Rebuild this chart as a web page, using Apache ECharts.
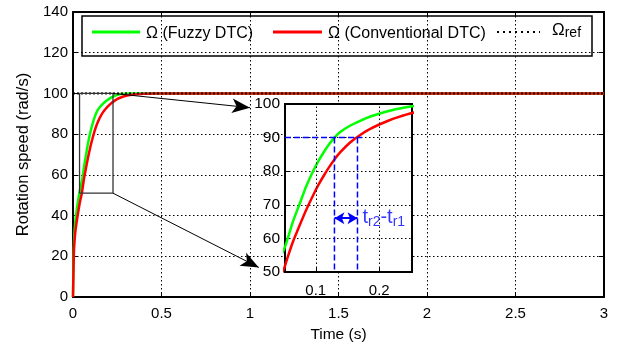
<!DOCTYPE html>
<html><head><meta charset="utf-8">
<script src="https://cdn.jsdelivr.net/npm/echarts@6/dist/echarts.min.js"></script>
<style>html,body{margin:0;padding:0;background:#fff}#c{width:622px;height:348px}</style>
</head><body><div id="c"></div>
<script>
// ---- data ----
const time       = [0, 0.003, 0.006, 0.012, 0.02, 0.03, 0.04, 0.05, 0.055, 0.064, 0.074, 0.085, 0.097, 0.105, 0.113, 0.121, 0.1294, 0.138, 0.1545, 0.17, 0.185, 0.2, 0.215, 0.23, 0.2516, 0.27, 0.29, 0.32, 0.36, 0.4, 0.45, 0.5, 1, 1.5, 2, 2.5, 3];
const speedFuzzy = [0, 19, 28, 36, 42, 48, 53, 56.8, 59.5, 65, 70, 75.5, 80.5, 83.3, 85.8, 88, 90, 91.6, 93.6, 95, 96.2, 97.1, 97.9, 98.6, 99.3, 99.7, 99.9, 100, 100, 100, 100, 100, 100, 100, 100, 100, 100];
const speedConv  = [0, 14, 24, 31, 36.5, 42, 47, 51, 54, 59, 63.6, 68.5, 73.3, 76.2, 78.8, 81.2, 83.5, 85.5, 88.6, 90.8, 92.5, 93.9, 95.1, 96.1, 97.3, 98, 98.6, 99.2, 99.6, 99.8, 100, 100, 100, 100, 100, 100, 100];
const refTime    = [0, 3];
const refSpeed   = [100, 100];
const riseLevel  = 90;                 // 90 % of reference
const riseTimes  = [0.1294, 0.1657];   // t_r1 (fuzzy), t_r2 (conventional)
const riseArrowY = 66;
const zoomBoxT   = [0.037, 0.226];
const zoomBoxY   = [51, 100];
const insetT     = [0.0515, 0.2516];
const insetY     = [50, 100];
const insetTicksT = [0.1, 0.2];

const FF = "'Liberation Sans', Arial, sans-serif";
const pairs = (xs, ys) => xs.map((x, i) => [x, ys[i]]);
const gridDot = {color: '#000', type: [1.5, 2.5], width: 1};
const axisBlack = {lineStyle: {color: '#000', width: 2}, onZero: false};
const lbl = (o) => Object.assign({color: '#000', fontSize: 15, fontFamily: FF}, o);
const curve = {showSymbol: false, smooth: 0.2};

const chart = echarts.init(document.getElementById('c'));
const option = {
  animation: false,
  backgroundColor: '#fff',
  grid: [
    {left: 73, right: 18, top: 12, bottom: 50, show: false},
    {left: 285, top: 104, width: 127, height: 168, show: true, backgroundColor: '#fff', borderColor: '#000', borderWidth: 2, z: 1}
  ],
  xAxis: [
    {gridIndex: 0, type: 'value', min: 0, max: 3, interval: 0.5, axisLine: axisBlack,
     axisTick: {inside: true, length: 5, lineStyle: {color: '#000'}},
     axisLabel: lbl({margin: 9}), splitLine: {show: true, lineStyle: gridDot},
     name: 'Time (s)', nameLocation: 'middle', nameGap: 30, nameTextStyle: lbl({fontSize: 15.5})},
    {gridIndex: 0, type: 'value', position: 'top', min: 0, max: 3, interval: 0.5, axisLine: axisBlack,
     axisTick: {inside: true, length: 5, lineStyle: {color: '#000'}}, axisLabel: {show: false}, splitLine: {show: false}},
    {gridIndex: 1, type: 'value', min: insetT[0], max: insetT[1], axisLine: axisBlack, z: 2,
     axisTick: {inside: true, length: 4, customValues: insetTicksT, lineStyle: {color: '#000'}},
     axisLabel: lbl({margin: 11, customValues: insetTicksT}),
     splitLine: {show: false}}
  ],
  yAxis: [
    {gridIndex: 0, type: 'value', min: 0, max: 140, interval: 20, axisLine: axisBlack,
     axisTick: {inside: true, length: 5, lineStyle: {color: '#000'}},
     axisLabel: lbl({margin: 5}), splitLine: {show: true, lineStyle: gridDot},
     name: 'Rotation speed (rad/s)', nameLocation: 'middle', nameGap: 32, nameRotate: 90,
     nameTextStyle: lbl({fontSize: 16.5})},
    {gridIndex: 0, type: 'value', position: 'right', min: 0, max: 140, interval: 20, axisLine: axisBlack,
     axisTick: {inside: true, length: 5, lineStyle: {color: '#000'}}, axisLabel: {show: false}, splitLine: {show: false}},
    {gridIndex: 1, type: 'value', min: insetY[0], max: insetY[1], interval: 10, axisLine: axisBlack, z: 2,
     axisTick: {inside: true, length: 4, lineStyle: {color: '#000'}},
     axisLabel: lbl({margin: 5, fontSize: 15.5}), splitLine: {show: true, lineStyle: gridDot}}
  ],
  series: [
    // main plot
    Object.assign({type: 'line', xAxisIndex: 0, yAxisIndex: 0, data: pairs(time, speedFuzzy),
     lineStyle: {color: '#00ff00', width: 2.5}}, curve),
    Object.assign({type: 'line', xAxisIndex: 0, yAxisIndex: 0, data: pairs(time, speedConv),
     lineStyle: {color: '#ff0000', width: 2.5}}, curve),
    {type: 'line', xAxisIndex: 0, yAxisIndex: 0, data: pairs(refTime, refSpeed), showSymbol: false,
     lineStyle: {color: '#000', width: 2, type: [2, 2]}},
    // zoom box + arrows
    {type: 'line', xAxisIndex: 0, yAxisIndex: 0, showSymbol: false, silent: true,
     data: [[zoomBoxT[0], zoomBoxY[0]], [zoomBoxT[1], zoomBoxY[0]], [zoomBoxT[1], zoomBoxY[1]], [zoomBoxT[0], zoomBoxY[1]], [zoomBoxT[0], zoomBoxY[0]]],
     lineStyle: {color: '#333', width: 1.3},
     markLine: {silent: true, symbol: ['none', 'arrow'], symbolSize: [11, 18], label: {show: false},
       lineStyle: {color: '#000', width: 1, type: 'solid'},
       data: [[{coord: [zoomBoxT[1], zoomBoxY[1]]}, {coord: [1.0, 93.0]}],
              [{coord: [zoomBoxT[1], zoomBoxY[0]]}, {coord: [1.05, 14.5]}]]}},
    // inset
    Object.assign({type: 'line', xAxisIndex: 2, yAxisIndex: 2, data: pairs(time, speedFuzzy), z: 3,
     lineStyle: {color: '#00ff00', width: 2.5}}, curve),
    Object.assign({type: 'line', xAxisIndex: 2, yAxisIndex: 2, data: pairs(time, speedConv), z: 3,
     lineStyle: {color: '#ff0000', width: 2.5}}, curve),
    // inset vertical grid lines
    {type: 'line', xAxisIndex: 2, yAxisIndex: 2, data: [], z: 2, silent: true,
     markLine: {silent: true, symbol: ['none', 'none'], label: {show: false}, lineStyle: gridDot,
       data: insetTicksT.map(t => ({xAxis: t}))}},
    // blue rise-time annotations
    {type: 'line', xAxisIndex: 2, yAxisIndex: 2, showSymbol: false, z: 4, silent: true,
     data: [[insetT[0], riseLevel], [0.173, riseLevel]], lineStyle: {color: '#0000ff', width: 1.5, type: [6, 3]}},
    {type: 'line', xAxisIndex: 2, yAxisIndex: 2, showSymbol: false, z: 4, silent: true,
     data: [[riseTimes[0], riseLevel], [riseTimes[0], insetY[0]]], lineStyle: {color: '#0000ff', width: 1.5, type: [6, 3]}},
    {type: 'line', xAxisIndex: 2, yAxisIndex: 2, showSymbol: false, z: 4, silent: true,
     data: [[riseTimes[1], riseLevel], [riseTimes[1], insetY[0]]], lineStyle: {color: '#0000ff', width: 1.5, type: [6, 3]},
     markLine: {silent: true, symbol: ['arrow', 'arrow'], symbolSize: [9, 10], label: {show: false},
       lineStyle: {color: '#0000ff', width: 2, type: 'solid'},
       data: [[{coord: [riseTimes[0], riseArrowY]}, {coord: [riseTimes[1], riseArrowY]}]]}},
    {type: 'scatter', xAxisIndex: 2, yAxisIndex: 2, z: 5, silent: true, symbolSize: 0,
     data: [[0.1735, riseArrowY]],
     label: {show: true, position: 'right', distance: 0,
       formatter: '{t|t}{s|r2}{t|-t}{s|r1}',
       rich: {t: {fontSize: 20, fontFamily: FF, color: '#0000ff', lineHeight: 21, verticalAlign: 'top'},
              s: {fontSize: 14, fontFamily: FF, color: '#0000ff', lineHeight: 14, verticalAlign: 'bottom', padding: [13, 0, 0, 0]}}}}
  ],
  graphic: [
    {type: 'group', z: 100, children: [
      {type: 'rect', shape: {x: 82, y: 16, width: 510, height: 40}, style: {fill: '#fff', stroke: '#000', lineWidth: 1.5}},
      {type: 'line', shape: {x1: 92, y1: 32, x2: 140, y2: 32}, style: {stroke: '#00ff00', lineWidth: 3}},
      {type: 'text', x: 146, y: 34, style: {text: 'Ω (Fuzzy DTC)', font: '16px ' + FF, fill: '#000', verticalAlign: 'middle'}},
      {type: 'line', shape: {x1: 273, y1: 32, x2: 322, y2: 32}, style: {stroke: '#ff0000', lineWidth: 3}},
      {type: 'text', x: 328, y: 34, style: {text: 'Ω (Conventional DTC)', font: '16px ' + FF, fill: '#000', verticalAlign: 'middle'}},
      {type: 'line', shape: {x1: 497, y1: 32, x2: 540, y2: 32}, style: {stroke: '#000', lineWidth: 2, lineDash: [2, 4]}},
      {type: 'text', x: 552, y: 22, style: {text: '{a|Ω}{b|ref}', fill: '#000',
        rich: {a: {fontSize: 17, fontFamily: FF, lineHeight: 18, verticalAlign: 'top'},
               b: {fontSize: 14, fontFamily: FF, lineHeight: 13, verticalAlign: 'bottom', padding: [10, 0, 0, 0]}}}}
    ]}
  ]
};
chart.setOption(option);
</script></body></html>
